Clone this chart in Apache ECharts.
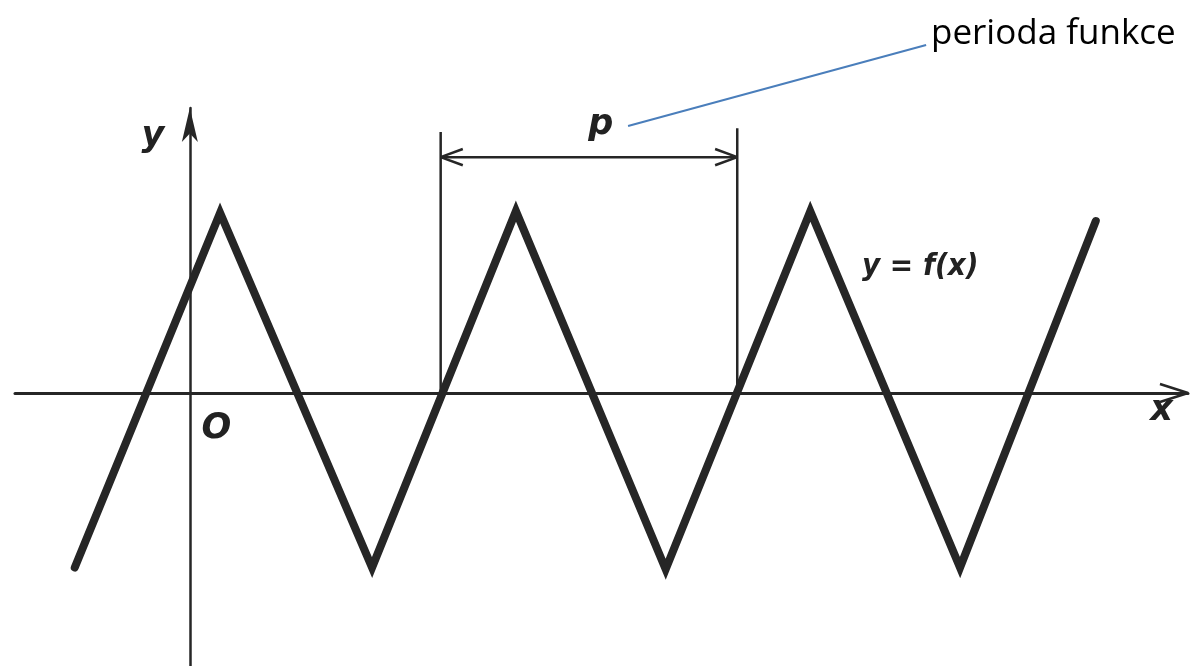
<!DOCTYPE html>
<html>
<head>
<meta charset="utf-8">
<title>perioda funkce</title>
<script src="https://cdn.jsdelivr.net/npm/echarts@6/dist/echarts.min.js"></script>
<style>
  html, body { margin: 0; padding: 0; background: #fff; }
  #chart { width: 1191px; height: 666px; }
</style>
</head>
<body>
<div id="chart"></div>
<script>
// triangle wave y = f(x) (x: period p = 4 units, y: amplitude ~ 1)
var waveX = [-1.56, 0.41, 2.47, 4.42, 6.45, 8.41, 10.44, 12.28];
var waveY = [-0.97, 1.0, -0.97, 1.01, -0.98, 1.01, -0.97, 0.955];

// period marker p
var periodStart = 3.40;
var periodEnd = 7.42;
var periodLevel = 1.31;
var periodTopLeft = 1.45;
var periodTopRight = 1.47;

// leader line from "p" to the caption
var leaderX = [5.94, 9.98];
var leaderY = [1.483, 1.933];

// letter labels in the figure
var letterNames = ['y', 'O', 'x', 'p'];
var letterX = [-0.50, 0.36, 13.17, 5.57];
var letterY = [1.42, -0.20, -0.10, 1.49];

// curve label
var curveName = 'y = f(x)';
var curveX = 9.90;
var curveY = 0.70;

var caption = 'perioda funkce';

var xMin = -2.37, xMax = 13.53;
var yMin = -1.517, yMax = 1.583;

var chartDom = document.getElementById('chart');
var myChart = echarts.init(chartDom);

function pairs(xs, ys) {
  return xs.map(function (x, i) { return [x, ys[i]]; });
}

var ink = '#262626';
var head = 0.30, half = 0.045;

function segment(name, data) {
  return {
    name: name, type: 'line', symbol: 'none', clip: false, data: data,
    lineStyle: { color: ink, width: 2.5 }
  };
}

function textSeries(name, data, fontFamily, fontSize) {
  return {
    name: name, type: 'scatter', symbolSize: 0, clip: false, data: data,
    itemStyle: { opacity: 1 },
    label: {
      show: true, position: 'inside', opacity: 1,
      formatter: function (p) { return p.name; },
      fontFamily: fontFamily, fontStyle: 'italic', fontWeight: 'bold', fontSize: fontSize, color: '#222'
    }
  };
}

var option = {
  backgroundColor: '#ffffff',
  animation: false,
  title: {
    text: caption,
    left: 931,
    top: 17,
    padding: 0,
    textStyle: { fontFamily: 'Open Sans', fontWeight: 'normal', fontSize: 35, color: '#000' }
  },
  grid: { left: 15, right: 3, top: 108, bottom: 0 },
  xAxis: {
    type: 'value', min: xMin, max: xMax,
    splitLine: { show: false }, axisTick: { show: false }, axisLabel: { show: false },
    axisLine: { onZero: true, lineStyle: { color: ink, width: 3 } }
  },
  yAxis: {
    type: 'value', min: yMin, max: yMax,
    splitLine: { show: false }, axisTick: { show: false }, axisLabel: { show: false },
    axisLine: {
      onZero: true,
      symbol: ['none', 'arrow'],
      symbolSize: [12, 34],
      lineStyle: { color: ink, width: 2.5 }
    }
  },
  series: [
    {
      name: 'f(x)', type: 'line', data: pairs(waveX, waveY),
      symbol: 'none', clip: false,
      lineStyle: { color: ink, width: 8, join: 'miter', cap: 'round' }
    },
    segment('x arrow', [[xMax - 0.38, 0.05], [xMax, 0], [xMax - 0.38, -0.05]]),
    segment('period left', [[periodStart, 0], [periodStart, periodTopLeft]]),
    segment('period right', [[periodEnd, 0], [periodEnd, periodTopRight]]),
    segment('period arrow', [[periodStart, periodLevel], [periodEnd, periodLevel]]),
    segment('period head left', [[periodStart + head, periodLevel + half], [periodStart, periodLevel], [periodStart + head, periodLevel - half]]),
    segment('period head right', [[periodEnd - head, periodLevel + half], [periodEnd, periodLevel], [periodEnd - head, periodLevel - half]]),
    {
      name: 'leader', type: 'line', symbol: 'none', clip: false,
      data: pairs(leaderX, leaderY),
      lineStyle: { color: '#4a7ebb', width: 2 }
    },
    textSeries('letters',
      letterNames.map(function (n, i) { return { name: n, value: [letterX[i], letterY[i]] }; }),
      'DejaVu Sans', 35),
    textSeries('curve label',
      [{ name: curveName, value: [curveX, curveY] }],
      'DejaVu Sans Condensed', 31)
  ]
};

option && myChart.setOption(option);
</script>
</body>
</html>
